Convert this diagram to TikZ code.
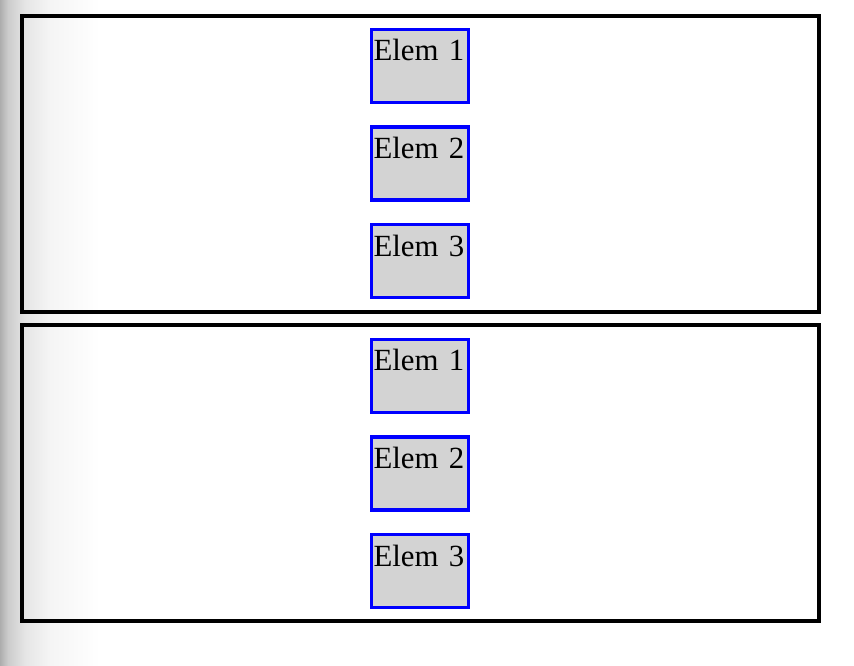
\documentclass[tikz,border=0pt]{standalone}
\usepackage{fontspec}
\setmainfont{Liberation Serif}
\usepackage{tikz}
\usetikzlibrary{positioning}
\definecolor{elemgray}{RGB}{211,211,211}

\begin{document}
\begin{tikzpicture}[x=0.75pt, y=-0.75pt,
    panel/.style={draw=black, line width=3pt},
    elembox/.style={draw=blue, line width=2.4pt, fill=elemgray, inner xsep=1.5pt, inner ysep=0pt,
        outer sep=0pt, text width=69.75pt, align=left, text height=23.6pt, text depth=31.15pt,
        font=\fontsize{23.1pt}{27pt}\selectfont},
    node distance=18.4pt]
        \useasboundingbox (0,0) rectangle (854,666);
        \fill[white] (0,0) rectangle (854,666);
        % shadow on the left edge
        \shade[left color=black!32, right color=black!20] (0,0) rectangle (8,666);
        \shade[left color=black!20, right color=black!10] (8,0) rectangle (25,666);
        \shade[left color=black!10, right color=black!4] (25,0) rectangle (50,666);
        \shade[left color=black!4, right color=white] (50,0) rectangle (100,666);

        \draw[panel] (22,16) rectangle (819,312);
        \draw[panel] (22,325) rectangle (819,621);

        \node[elembox] (a1) at (420,66) {Elem 1};
        \node[elembox, below=of a1] (a2) {Elem 2};
        \node[elembox, below=of a2] (a3) {Elem 3};

        \node[elembox] (b1) at (420,376) {Elem 1};
        \node[elembox, below=of b1] (b2) {Elem 2};
        \node[elembox, below=of b2] (b3) {Elem 3};
    \end{tikzpicture}
\end{document}
